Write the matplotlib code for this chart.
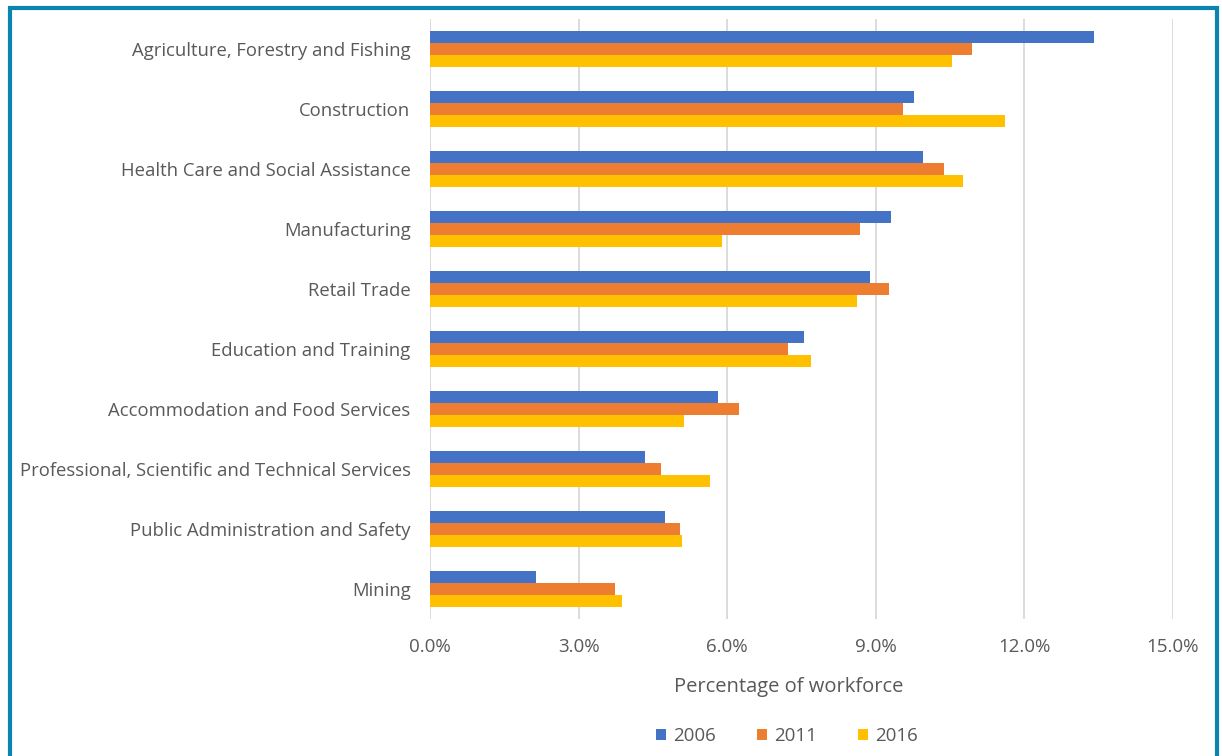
import numpy as np
import matplotlib.pyplot as plt
from matplotlib.patches import Rectangle
from matplotlib.ticker import FuncFormatter

plt.rcParams['font.family'] = ['Open Sans', 'DejaVu Sans']

industries = [
    "Agriculture, Forestry and Fishing",
    "Construction",
    "Health Care and Social Assistance",
    "Manufacturing",
    "Retail Trade",
    "Education and Training",
    "Accommodation and Food Services",
    "Professional, Scientific and Technical Services",
    "Public Administration and Safety",
    "Mining",
]
years = ["2006", "2011", "2016"]

share_2006 = [13.40, 9.78, 9.95, 9.31, 8.89, 7.56, 5.82, 4.34, 4.75, 2.14]
share_2011 = [10.94, 9.55, 10.38, 8.69, 9.26, 7.22, 6.24, 4.66, 5.04, 3.74]
share_2016 = [10.53, 11.61, 10.77, 5.90, 8.63, 7.69, 5.12, 5.65, 5.08, 3.87]

colors = ['#4472C4', '#ED7D31', '#FFC000']
text_grey = '#595959'

fig = plt.figure(figsize=(12.22, 7.56), dpi=100)
ax = fig.add_axes([430 / 1222, 137 / 756, 743 / 1222, 600 / 756])

y = np.arange(len(industries))
bar_h = 0.205
for i, (vals, yr) in enumerate(zip([share_2006, share_2011, share_2016], years)):
    ax.barh(y - bar_h + i * bar_h, vals, height=bar_h, color=colors[i],
            label=yr, zorder=3)

ax.set_xlim(0, 15)
ax.set_ylim(len(industries) - 0.5, -0.5)
ax.set_xticks(np.arange(0, 15.1, 3))
ax.xaxis.set_major_formatter(FuncFormatter(lambda v, p: "%.1f%%" % v))
ax.set_yticks(y)
ax.set_yticklabels(industries)

ax.grid(axis='x', color='#D9D9D9', linewidth=1.3, zorder=0)
for s in ax.spines.values():
    s.set_visible(False)
ax.tick_params(axis='both', length=0, colors=text_grey)
ax.tick_params(axis='y', labelsize=13.3, pad=14)
ax.tick_params(axis='x', labelsize=13.5, pad=14)

ax.set_xlabel("Percentage of workforce", fontsize=14.5, color=text_grey)
ax.xaxis.set_label_coords((789 - 430) / 743, -0.097)

leg = fig.legend(loc='center', bbox_to_anchor=(787 / 1222, 1 - 736 / 756), ncol=3,
                 frameon=False, fontsize=13.5, handlelength=0.5, handleheight=0.5,
                 handletextpad=0.4, columnspacing=2.2)
for t in leg.get_texts():
    t.set_color(text_grey)

# teal frame round the figure
fig.patches.append(Rectangle((9.5 / 1222, -0.05), 1207 / 1222, 1.05 - 8 / 756,
                             transform=fig.transFigure, fill=False,
                             edgecolor='#0B84B0', linewidth=3))

plt.savefig('out.png', dpi=100)
